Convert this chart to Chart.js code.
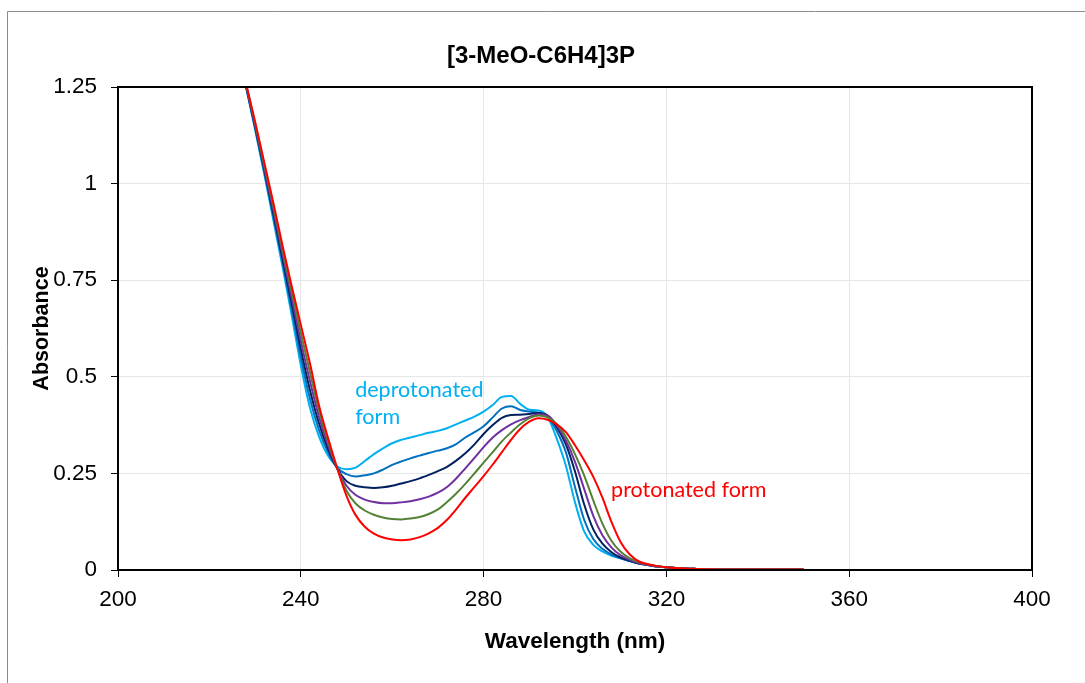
<!DOCTYPE html>
<html lang="en">
<head>
  <meta charset="UTF-8" />
  <title>[3-MeO-C6H4]3P</title>
  <script src="https://cdn.jsdelivr.net/npm/chart.js"></script>
  <style>
    body { margin: 0; background: #fff; }
    canvas { display: block; }
  </style>
</head>
<body>
<canvas id="chart" width="1085" height="683"></canvas>
<script>
// wavelength grid, nm
const wavelengths = [];
for (let nm = 226; nm <= 350; nm += 2) wavelengths.push(nm);

// absorbance, one list per titration step
const deprotonated = [1.36, 1.25, 1.14, 1.025, 0.905, 0.785, 0.66, 0.53, 0.42, 0.345, 0.295,
  0.268, 0.261, 0.265, 0.282, 0.3, 0.315, 0.328, 0.337, 0.343, 0.349, 0.355, 0.36,
  0.367, 0.377, 0.387, 0.397, 0.41, 0.427, 0.448, 0.45, 0.43, 0.415, 0.413, 0.397,
  0.34, 0.27, 0.175, 0.1, 0.065, 0.048, 0.037, 0.03, 0.023, 0.017, 0.013, 0.009, 0.007,
  0.005, 0.004, 0.003, 0.002, 0.002, 0.001, 0.001, 0.001, 0.001, 0.001, 0.001, 0.001, 0.001, 0.001, 0.001];
const step2 = [1.36, 1.252, 1.144, 1.031, 0.914, 0.796, 0.675, 0.551, 0.443, 0.362, 0.304,
  0.264, 0.248, 0.242, 0.245, 0.25, 0.26, 0.272, 0.281, 0.289, 0.296, 0.303, 0.309,
  0.315, 0.326, 0.343, 0.357, 0.372, 0.395, 0.418, 0.424, 0.414, 0.41, 0.407, 0.398,
  0.36, 0.305, 0.215, 0.13, 0.08, 0.055, 0.04, 0.03, 0.023, 0.017, 0.013, 0.009, 0.007,
  0.005, 0.004, 0.003, 0.002, 0.002, 0.001, 0.001, 0.001, 0.001, 0.001, 0.001, 0.001, 0.001, 0.001, 0.001];
const step3 = [1.36, 1.254, 1.148, 1.037, 0.923, 0.807, 0.69, 0.572, 0.466, 0.379, 0.313,
  0.262, 0.23, 0.218, 0.214, 0.212, 0.214, 0.218, 0.224, 0.23, 0.237, 0.246, 0.256,
  0.267, 0.283, 0.302, 0.325, 0.352, 0.375, 0.394, 0.401, 0.402, 0.404, 0.406, 0.4,
  0.37, 0.325, 0.255, 0.17, 0.105, 0.068, 0.046, 0.032, 0.024, 0.017, 0.013, 0.009, 0.007,
  0.005, 0.004, 0.003, 0.002, 0.002, 0.001, 0.001, 0.001, 0.001, 0.001, 0.001, 0.001, 0.001, 0.001, 0.001];
const step4 = [1.36, 1.256, 1.152, 1.043, 0.932, 0.818, 0.705, 0.593, 0.489, 0.396, 0.322,
  0.262, 0.218, 0.194, 0.182, 0.176, 0.173, 0.173, 0.175, 0.178, 0.183, 0.19, 0.2,
  0.215, 0.237, 0.263, 0.29, 0.318, 0.343, 0.362, 0.377, 0.388, 0.396, 0.403, 0.4,
  0.375, 0.335, 0.28, 0.21, 0.14, 0.09, 0.058, 0.038, 0.026, 0.018, 0.013, 0.009, 0.007,
  0.005, 0.004, 0.003, 0.002, 0.002, 0.001, 0.001, 0.001, 0.001, 0.001, 0.001, 0.001, 0.001, 0.001, 0.001];
const step5 = [1.36, 1.258, 1.156, 1.049, 0.941, 0.829, 0.72, 0.614, 0.512, 0.413, 0.331,
  0.262, 0.205, 0.172, 0.154, 0.143, 0.136, 0.132, 0.131, 0.133, 0.137, 0.145, 0.157,
  0.176, 0.198, 0.223, 0.25, 0.278, 0.305, 0.333, 0.356, 0.377, 0.393, 0.4, 0.395,
  0.378, 0.345, 0.3, 0.245, 0.18, 0.12, 0.075, 0.047, 0.03, 0.02, 0.014, 0.01, 0.007,
  0.005, 0.004, 0.003, 0.002, 0.002, 0.001, 0.001, 0.001, 0.001, 0.001, 0.001, 0.001, 0.001, 0.001, 0.001];
const protonated = [1.36, 1.26, 1.16, 1.055, 0.95, 0.84, 0.735, 0.635, 0.535, 0.425, 0.34,
  0.262, 0.192, 0.142, 0.112, 0.094, 0.084, 0.079, 0.077, 0.079, 0.085, 0.095, 0.109,
  0.13, 0.157, 0.187, 0.215, 0.243, 0.273, 0.305, 0.337, 0.365, 0.384, 0.393, 0.389,
  0.377, 0.357, 0.323, 0.284, 0.241, 0.187, 0.124, 0.072, 0.04, 0.022, 0.015, 0.01, 0.007,
  0.005, 0.004, 0.003, 0.002, 0.002, 0.001, 0.001, 0.001, 0.001, 0.001, 0.001, 0.001, 0.001, 0.001, 0.001];

const seriesList = [deprotonated, step2, step3, step4, step5, protonated];
const seriesColors = ['#00B0F0', '#0070C0', '#002060', '#7030A0', '#548235', '#FF0000'];

const xTicks = [200, 240, 280, 320, 360, 400];
const yTicks = [0, 0.25, 0.5, 0.75, 1, 1.25];

const chartTitle = '[3-MeO-C6H4]3P';
const notes = [
  { text: 'deprotonated', nm: 251.9, abs: 0.466, color: '#00B0F0' },
  { text: 'form', nm: 251.9, abs: 0.396, color: '#00B0F0' },
  { text: 'protonated form', nm: 307.9, abs: 0.207, color: '#FF0000' }
];

const FONT = "'Liberation Sans', Arial, sans-serif";

const decor = {
  id: 'decor',
  beforeDraw(chart) {
    const ctx = chart.ctx;
    ctx.save();
    ctx.fillStyle = '#fff';
    ctx.fillRect(0, 0, chart.width, chart.height);
    ctx.strokeStyle = '#8c8c8c';
    ctx.lineWidth = 1;
    ctx.beginPath();
    ctx.moveTo(7.5, chart.height);
    ctx.lineTo(7.5, 11.5);
    ctx.lineTo(chart.width, 11.5);
    ctx.stroke();
    ctx.restore();
  },
  afterDraw(chart) {
    const ctx = chart.ctx;
    const a = chart.chartArea;
    const xs = chart.scales.x, ys = chart.scales.y;
    ctx.save();
    ctx.strokeStyle = '#000';
    ctx.lineWidth = 2;
    ctx.strokeRect(a.left, a.top, a.right - a.left, a.bottom - a.top);

    ctx.fillStyle = '#000';
    ctx.font = 'bold 24px ' + FONT;
    ctx.textAlign = 'center';
    ctx.textBaseline = 'middle';
    ctx.fillText(chartTitle, 541, 56);

    ctx.font = "21.5px Lato, 'Liberation Sans', sans-serif";
    ctx.textAlign = 'left';
    notes.forEach(n => {
      ctx.fillStyle = n.color;
      ctx.fillText(n.text, xs.getPixelForValue(n.nm), ys.getPixelForValue(n.abs));
    });
    ctx.restore();
  }
};

new Chart(document.getElementById('chart'), {
  type: 'line',
  data: {
    datasets: seriesList.map((vals, i) => ({
      data: wavelengths.map((nm, j) => ({ x: nm, y: vals[j] })),
      borderColor: seriesColors[i],
      backgroundColor: seriesColors[i],
      order: seriesList.length - i,
      fill: false
    }))
  },
  options: {
    responsive: false,
    animation: false,
    layout: { padding: { left: 29, right: 53, top: 87, bottom: 28 } },
    plugins: {
      legend: { display: false },
      title: { display: false },
      tooltip: { enabled: false }
    },
    elements: {
      point: { radius: 0 },
      line: { borderWidth: 2, cubicInterpolationMode: 'monotone' }
    },
    scales: {
      x: {
        type: 'linear',
        min: 200,
        max: 400,
        afterBuildTicks: s => { s.ticks = xTicks.map(v => ({ value: v })); },
        afterFit: s => { s.height = 85; },
        ticks: { color: '#000', padding: 9, maxRotation: 0, font: { family: FONT, size: 22.5 } },
        grid: { color: '#e6e6e6', tickColor: '#000', tickLength: 7, lineWidth: 1 },
        border: { display: false },
        title: { display: true, text: 'Wavelength (nm)', color: '#000', padding: 0,
                 font: { family: FONT, size: 22.5, weight: 'bold' } }
      },
      y: {
        min: 0,
        max: 1.25,
        afterBuildTicks: s => { s.ticks = yTicks.map(v => ({ value: v })); },
        afterFit: s => { s.width = 89; },
        ticks: { color: '#000', padding: 14, font: { family: FONT, size: 22.5 },
                 callback: v => String(v) },
        grid: { color: '#e6e6e6', tickColor: '#000', tickLength: 7, lineWidth: 1 },
        border: { display: false },
        title: { display: true, text: 'Absorbance', color: '#000', padding: 0,
                 font: { family: FONT, size: 21.5, weight: 'bold' } }
      }
    }
  },
  plugins: [decor]
});
</script>
</body>
</html>
